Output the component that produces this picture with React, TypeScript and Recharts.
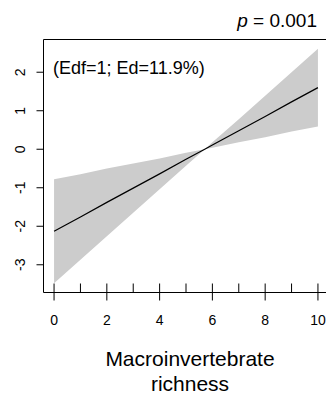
import React from 'react';
import { ComposedChart, Area, Line, Scatter, XAxis, YAxis, ReferenceArea } from 'recharts';

// Fitted smooth term (Edf = 1) for macroinvertebrate richness, with its confidence band
const xValues = [0, 1, 2, 3, 4, 5, 5.71, 6, 7, 8, 9, 10];
const fitValues = [-2.13, -1.76, -1.38, -1.01, -0.64, -0.26, 0, 0.11, 0.48, 0.85, 1.23, 1.6];
const upperValues = [-0.78, -0.65, -0.5, -0.37, -0.24, -0.09, 0, 0.18, 0.78, 1.39, 2.0, 2.61];
const lowerValues = [-3.48, -2.87, -2.26, -1.65, -1.04, -0.43, 0, 0.04, 0.18, 0.31, 0.46, 0.59];

// observed richness values shown as a rug along the x axis
const rugValues = [0, 1, 2, 3, 4, 5, 6, 7, 8, 9, 10];

const xTicks = [0, 2, 4, 6, 8, 10];
const yTicks = [-3, -2, -1, 0, 1, 2];

const X_MIN = -0.4;
const X_MAX = 10.4;
const Y_MIN = -3.72;
const Y_MAX = 2.85;

const FONT = '"Liberation Sans", Arial, Helvetica, sans-serif';

const rows = xValues.map((x, i) => ({
  x,
  fit: fitValues[i],
  band: [lowerValues[i], upperValues[i]],
}));

const rugRows = rugValues.map((x) => ({ x, y: Y_MIN }));

const XTick = (props: any) => {
  const { x, y, payload } = props;
  return (
    <text x={x} y={y + 22.5} textAnchor="middle" fontSize={14} fontFamily={FONT} fill="#000">
      {payload.value}
    </text>
  );
};

const YTick = (props: any) => {
  const { x, y, payload } = props;
  const tx = x - 9;
  return (
    <text
      x={tx}
      y={y}
      transform={`rotate(-90, ${tx}, ${y})`}
      textAnchor="middle"
      fontSize={14}
      fontFamily={FONT}
      fill="#000"
    >
      {payload.value}
    </text>
  );
};

const RugMark = (props: any) => {
  const { cx, cy } = props;
  return <line x1={cx} x2={cx} y1={cy} y2={cy - 9} stroke="#000" strokeWidth={1} />;
};

export default function App() {
  return (
    <div style={{ position: 'absolute', left: 0, top: 0, width: 326, height: 396, overflow: 'hidden', background: '#fff' }}>
      <ComposedChart
        width={330}
        height={396}
        data={rows}
        margin={{ top: 39.5, right: 1.5, bottom: 0, left: 0 }}
      >
        <XAxis
          dataKey="x"
          type="number"
          domain={[X_MIN, X_MAX]}
          ticks={xTicks}
          allowDataOverflow
          axisLine={false}
          tickLine={{ stroke: '#000' }}
          tickSize={8}
          tick={<XTick />}
          height={103.5}
        />
        <YAxis
          type="number"
          domain={[Y_MIN, Y_MAX]}
          ticks={yTicks}
          allowDataOverflow
          axisLine={false}
          tickLine={{ stroke: '#000' }}
          tickSize={7}
          tick={<YTick />}
          width={43.5}
        />
        <Area
          dataKey="band"
          type="linear"
          fill="#cccccc"
          fillOpacity={1}
          stroke="none"
          isAnimationActive={false}
        />
        <Line
          dataKey="fit"
          type="linear"
          stroke="#000"
          strokeWidth={1.2}
          dot={false}
          isAnimationActive={false}
        />
        <Scatter data={rugRows} dataKey="y" shape={<RugMark />} isAnimationActive={false} />
        <ReferenceArea
          x1={X_MIN}
          x2={X_MAX}
          y1={Y_MIN}
          y2={Y_MAX}
          fill="none"
          stroke="#000"
          strokeWidth={1}
        />
      </ComposedChart>
      <svg width={326} height={396} style={{ position: 'absolute', left: 0, top: 0, pointerEvents: 'none' }}>
        <text x={317} y={27} textAnchor="end" fontSize={19} fontFamily={FONT} fill="#000">
          <tspan fontStyle="italic">p</tspan> = 0.001
        </text>
        <text x={53} y={74} fontSize={18} fontFamily={FONT} fill="#000">
          (Edf=1; Ed=11.9%)
        </text>
        <text x={190} y={366} textAnchor="middle" fontSize={21} fontFamily={FONT} fill="#000">
          Macroinvertebrate
        </text>
        <text x={190} y={391} textAnchor="middle" fontSize={21} fontFamily={FONT} fill="#000">
          richness
        </text>
      </svg>
    </div>
  );
}
